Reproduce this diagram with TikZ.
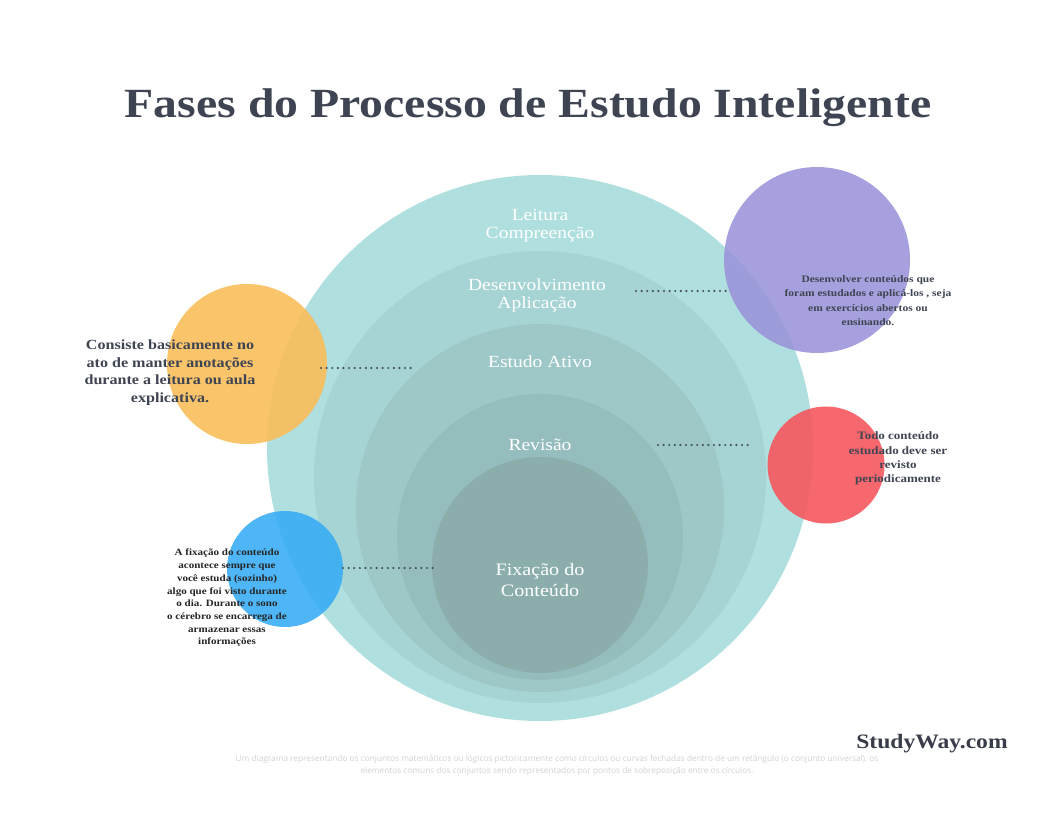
\documentclass[tikz,border=0pt]{standalone}
\usepackage{fontspec}
\setmainfont{Liberation Serif}[FakeStretch=1.15]
\newfontfamily\footfont{Open Sans}
\definecolor{ringA}{HTML}{B0DFDF}
\definecolor{ringB}{HTML}{A6D3D3}
\definecolor{ringC}{HTML}{9EC8C8}
\definecolor{ringD}{HTML}{96BDBD}
\definecolor{ringE}{HTML}{8BAEAD}
\definecolor{purp}{HTML}{9A93DA}
\definecolor{oran}{HTML}{FABC57}
\definecolor{redc}{HTML}{F7535A}
\definecolor{blue}{HTML}{36ACF5}
\definecolor{titlec}{HTML}{3E4451}
\definecolor{sidetxt}{HTML}{3E4451}
\definecolor{dotc}{HTML}{46525A}
\definecolor{footc}{HTML}{D2D2D2}
\tikzset{
  ring/.style={circle, inner sep=0pt, draw=none},
  side/.style={circle, inner sep=0pt, draw=none, fill opacity=0.88},
  lbl/.style={text=white, align=center, inner sep=0pt, font=\fontsize{17}{18}\selectfont},
  sidelbl/.style={text=sidetxt, align=center, inner sep=0pt},
  dotline/.style={draw=dotc, line width=2.4pt, line cap=round, dash pattern=on 0pt off 5.6pt}
}
\begin{document}
\begin{tikzpicture}[x=1pt,y=-1pt]
\useasboundingbox[fill=white] (0,0) rectangle (1056,816);
% title
\node[text=titlec, anchor=base, inner sep=0pt, font=\fontsize{41.5}{42}\selectfont\bfseries] (title) at (528,117) {Fases do Processo de Estudo Inteligente};
% concentric rings
\node[ring, fill=ringA, minimum size=546pt] (r1) at (540,448) {};
\node[ring, fill=ringB, minimum size=452pt] (r2) at (540,477) {};
\node[ring, fill=ringC, minimum size=368pt] (r3) at (540,508) {};
\node[ring, fill=ringD, minimum size=286pt] (r4) at (540,537) {};
\node[ring, fill=ringE, minimum size=216pt] (r5) at (540,565) {};
% side circles
\node[side, fill=purp, minimum size=186pt] (cp) at (817,260) {};
\node[side, fill=oran, minimum size=160pt] (co) at (247,364) {};
\node[side, fill=redc, minimum size=117pt] (cr) at (826,465) {};
\node[side, fill=blue, minimum size=116pt] (cb) at (285,569) {};
% ring labels
\node[lbl] (l1) at (540,226) {Leitura\\Compreenção};
\node[lbl] (l2) at (537,295.5) {Desenvolvimento\\Aplicação};
\node[lbl] (l3) at (540,362) {Estudo Ativo};
\node[lbl] (l4) at (540,445) {Revisão};
\node[lbl, font=\fontsize{17.5}{21}\selectfont] (l5) at (540,580) {Fixação do\\Conteúdo};
% dotted connectors
\coordinate (p1) at (636,291); \coordinate (p2) at (731,291);
\coordinate (o1) at (321,368); \coordinate (o2) at (416,368);
\coordinate (q1) at (658,445); \coordinate (q2) at (753,445);
\coordinate (b1) at (343,568); \coordinate (b2) at (438,568);
\draw[dotline] (p1) -- (p2);
\draw[dotline] (o1) -- (o2);
\draw[dotline] (q1) -- (q2);
\draw[dotline] (b1) -- (b2);
% side texts
\node[sidelbl, font=\fontsize{14}{17.7}\selectfont\bfseries] (to) at (170,372.5) {Consiste basicamente no\\ato de manter anotações\\durante a leitura ou aula\\explicativa.};
\node[sidelbl, font=\fontsize{10}{14.4}\selectfont\bfseries] (tp) at (868,300.5) {Desenvolver conteúdos que\\foram estudados e aplicá-los , seja\\em exercícios abertos ou\\ensinando.};
\node[sidelbl, font=\fontsize{11.3}{14.4}\selectfont\bfseries] (tr) at (898,458.5) {Todo conteúdo\\estudado deve ser\\revisto\\periodicamente};
\node[sidelbl, text=black!85, font=\fontsize{9.6}{12.7}\selectfont\bfseries] (tb) at (227,598) {A fixação do conteúdo\\acontece sempre que\\você estuda (sozinho)\\algo que foi visto durante\\o dia. Durante o sono\\o cérebro se encarrega de\\armazenar essas\\informações};
% brand and footer
\node[text=titlec!90!black, inner sep=0pt, font=\fontsize{20.5}{22}\selectfont\bfseries] (brand) at (932,744) {StudyWay.com};
\node[text=footc, align=center, inner sep=0pt, font=\footfont\fontsize{8.3}{12}\selectfont] (foot) at (557,765) {Um diagrama representando os conjuntos matemáticos ou lógicos pictoricamente como círculos ou curvas fechadas dentro de um retângulo (o conjunto universal), os\\elementos comuns dos conjuntos sendo representados por pontos de sobreposição entre os círculos.};
\end{tikzpicture}
\end{document}
